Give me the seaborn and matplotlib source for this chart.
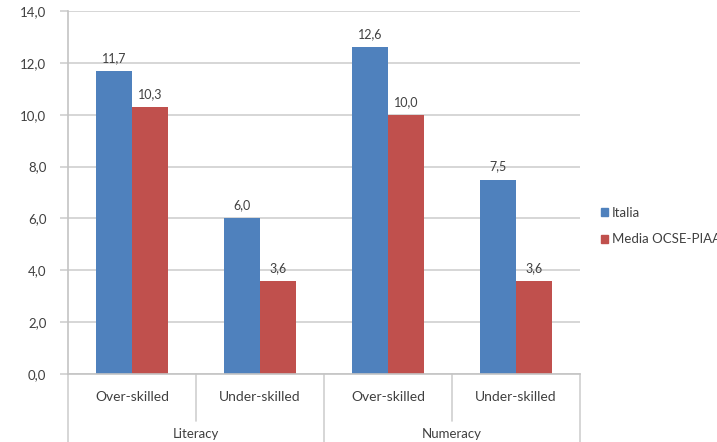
import matplotlib
matplotlib.use("Agg")
import matplotlib.pyplot as plt
import matplotlib.transforms as mtransforms
import seaborn as sns
import pandas as pd

groups = ["Literacy", "Literacy", "Numeracy", "Numeracy"]
skills = ["Over-skilled", "Under-skilled", "Over-skilled", "Under-skilled"]
italia = [11.7, 6.0, 12.6, 7.5]
ocse = [10.3, 3.6, 10.0, 3.6]
series = ["Italia", "Media OCSE-PIAAC"]
yticks = [0, 2, 4, 6, 8, 10, 12, 14]

keys = [f"{g}|{s}" for g, s in zip(groups, skills)]
df = pd.DataFrame({
    "cat": keys * 2,
    "value": italia + ocse,
    "series": [series[0]] * 4 + [series[1]] * 4,
})

sns.set_theme(style="white")
plt.rcParams["font.family"] = ["Lato", "DejaVu Sans"]

fig = plt.figure(figsize=(7.17, 4.42), dpi=100)
ax = fig.add_axes([68 / 717, 68 / 442, 512 / 717, 363 / 442])

colors = ["#4F81BD", "#C0504D"]
sns.barplot(data=df, x="cat", y="value", hue="series", order=keys,
            hue_order=series, palette=colors, width=0.5625, gap=0,
            saturation=1, ax=ax, legend=True, edgecolor="none")

txt = "#404040"
ax.set_ylim(0, 14)
ax.set_xlim(-0.5, 3.5)
ax.set_yticks(yticks)
ax.set_yticklabels([f"{v:.1f}".replace(".", ",") for v in yticks],
                   fontsize=9.5, color=txt)
ax.yaxis.grid(True, color="#D0D0D0", linewidth=1.2)
ax.set_axisbelow(True)
ax.tick_params(axis="y", length=5.5, width=1.2, color="#D0D0D0", left=True, pad=10)
ax.tick_params(axis="x", length=0, labelbottom=False)
ax.set_xlabel("")
ax.set_ylabel("")
for side in ["top", "right"]:
    ax.spines[side].set_visible(False)
for side in ["left", "bottom"]:
    ax.spines[side].set_color("#C4C4C4")
    ax.spines[side].set_linewidth(1.2)

for cont in ax.containers:
    vals = [b.get_height() for b in cont]
    ax.bar_label(cont, labels=[f"{v:.1f}".replace(".", ",") for v in vals],
                 padding=5, fontsize=9, color=txt)

trans = mtransforms.blended_transform_factory(ax.transData, ax.transAxes)
for x in [0.5, 2.5]:
    ax.plot([x, x], [0, -47 / 363], transform=trans, color="#D0D0D0",
            linewidth=1.2, clip_on=False)
for x in [-0.5, 1.5, 3.5]:
    ax.plot([x, x], [0, -75 / 363], transform=trans, color="#D0D0D0",
            linewidth=1.2, clip_on=False)
for i, s in enumerate(skills):
    ax.text(i, -23 / 363, s, transform=trans, ha="center", va="center",
            fontsize=10, color=txt)
for cx, g in [(0.5, "Literacy"), (2.5, "Numeracy")]:
    ax.text(cx, -60 / 363, g, transform=trans, ha="center", va="center",
            fontsize=9.5, color=txt)

ax.get_legend().remove()
handles = [plt.Rectangle((0, 0), 1, 1, color=c) for c in colors]
fig.legend(handles, series, loc="center left",
           bbox_to_anchor=(601 / 717, 1 - 226 / 442), frameon=False,
           fontsize=9.5, handlelength=0.55, handleheight=0.55,
           handletextpad=0.3, labelspacing=1.1, borderpad=0,
           borderaxespad=0, labelcolor=txt)

fig.savefig("out.png", dpi=100)
